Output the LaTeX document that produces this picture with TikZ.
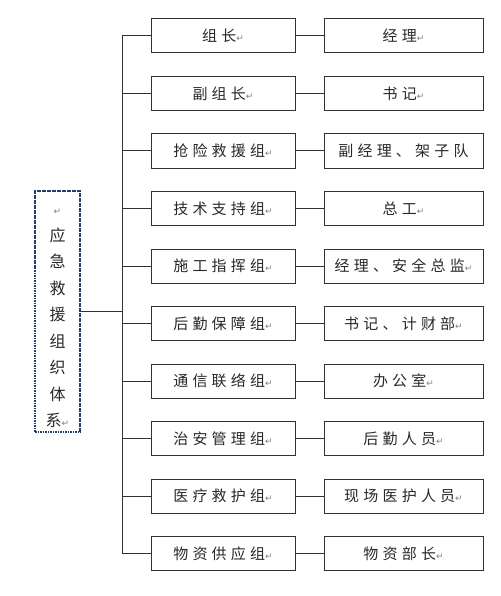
\documentclass[tikz,border=0pt]{standalone}
\usepackage{fontspec}
\newfontfamily\cjk[LetterSpace=28]{Noto Sans CJK SC}
\newfontfamily\symfont{DejaVu Sans}
\definecolor{linegray}{RGB}{50, 50, 50}
\definecolor{textgray}{RGB}{40, 40, 40}
\definecolor{framebl}{RGB}{40, 60, 105}
\newcommand{\retmark}{{\symfont\color{gray}\fontsize{9}{9}\selectfont ↵}}
\usetikzlibrary{positioning}
\tikzset{
  grpbox/.style={draw=linegray, line width=1pt, minimum width=144pt, minimum height=34pt,
    inner sep=0pt, font=\cjk\fontsize{15}{15}\selectfont, text=textgray},
  dutybox/.style={grpbox, minimum width=159pt},
  link/.style={draw=linegray, line width=1pt}
}

\begin{document}
\begin{tikzpicture}[x=1pt, y=-1pt]
  \useasboundingbox (0,0) rectangle (500,596);

  % System box
  \node[draw=framebl, line width=1.4pt, dash pattern=on 1.6pt off 0.9pt, minimum width=45pt, minimum height=241pt,
    inner sep=0pt, align=center, text=textgray, font=\cjk\fontsize{16}{26.5}\selectfont] (sys) at (57.5, 311.5)
    {\rule{0pt}{20pt}\retmark\\应\\急\\救\\援\\组\\织\\体\\系\retmark};

  % Groups
  \node[grpbox] (g1) at (223, 36) {组长\retmark};
  \node[grpbox] (g2) at (223, 93.5) {副组长\retmark};
  \node[grpbox] (g3) at (223, 151) {抢险救援组\retmark};
  \node[grpbox] (g4) at (223, 208.5) {技术支持组\retmark};
  \node[grpbox] (g5) at (223, 266) {施工指挥组\retmark};
  \node[grpbox] (g6) at (223, 323.5) {后勤保障组\retmark};
  \node[grpbox] (g7) at (223, 381) {通信联络组\retmark};
  \node[grpbox] (g8) at (223, 438.5) {治安管理组\retmark};
  \node[grpbox] (g9) at (223, 496) {医疗救护组\retmark};
  \node[grpbox] (g10) at (223, 553.5) {物资供应组\retmark};

  % Duties
  \node[dutybox] (d1) at (403.5, 36) {经理\retmark};
  \node[dutybox] (d2) at (403.5, 93.5) {书记\retmark};
  \node[dutybox] (d3) at (403.5, 151) {副经理、架子队};
  \node[dutybox] (d4) at (403.5, 208.5) {总工\retmark};
  \node[dutybox] (d5) at (403.5, 266) {经理、安全总监\retmark};
  \node[dutybox] (d6) at (403.5, 323.5) {书记、计财部\retmark};
  \node[dutybox] (d7) at (403.5, 381) {办公室\retmark};
  \node[dutybox] (d8) at (403.5, 438.5) {后勤人员\retmark};
  \node[dutybox] (d9) at (403.5, 496) {现场医护人员\retmark};
  \node[dutybox] (d10) at (403.5, 553.5) {物资部长\retmark};

  % Trunk
  \coordinate (trunk) at (122, 36);
  \draw[link] (g1.west) -- (g1.west -| trunk) -- (g10.west -| trunk) -- (g10.west);
  \draw[link] (sys.east) -- (sys.east -| trunk);
  \draw[link] (g2.west) -- (g2.west -| trunk);
  \draw[link] (g3.west) -- (g3.west -| trunk);
  \draw[link] (g4.west) -- (g4.west -| trunk);
  \draw[link] (g5.west) -- (g5.west -| trunk);
  \draw[link] (g6.west) -- (g6.west -| trunk);
  \draw[link] (g7.west) -- (g7.west -| trunk);
  \draw[link] (g8.west) -- (g8.west -| trunk);
  \draw[link] (g9.west) -- (g9.west -| trunk);

  % Group to duty
  \draw[link] (g1) -- (d1);
  \draw[link] (g2) -- (d2);
  \draw[link] (g3) -- (d3);
  \draw[link] (g4) -- (d4);
  \draw[link] (g5) -- (d5);
  \draw[link] (g6) -- (d6);
  \draw[link] (g7) -- (d7);
  \draw[link] (g8) -- (d8);
  \draw[link] (g9) -- (d9);
  \draw[link] (g10) -- (d10);
\end{tikzpicture}
\end{document}
